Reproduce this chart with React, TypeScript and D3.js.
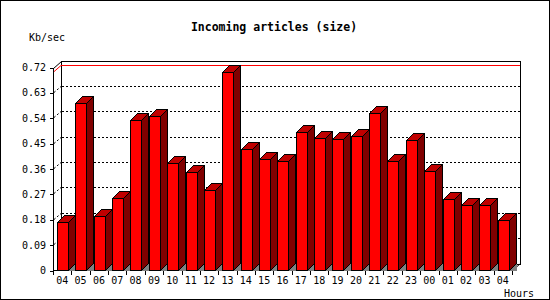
import React from "react";
import * as d3 from "d3";

const hours = ["04","05","06","07","08","09","10","11","12","13","14","15","16","17","18","19","20","21","22","23","00","01","02","03","04"];
const values = [0.171,0.593,0.194,0.256,0.533,0.547,0.380,0.350,0.284,0.703,0.431,0.394,0.389,0.490,0.469,0.465,0.476,0.558,0.389,0.462,0.352,0.253,0.231,0.231,0.178];
const yTickValues = [0,0.09,0.18,0.27,0.36,0.45,0.54,0.63,0.72];
const yTickLabels = ["0","0.09","0.18","0.27","0.36","0.45","0.54","0.63","0.72"];
const title = "Incoming articles (size)";
const yTitle = "Kb/sec";
const xTitle = "Hours";

export default function App() {
  const W = 550, H = 300;
  const x0 = 53, x1 = 512;
  const PDX = 8, PDY = 7; // plot depth
  const BD = 7; // bar depth
  const x = d3.scaleBand<number>().domain(d3.range(hours.length)).range([x0, x1]);
  const y = d3.scaleLinear().domain([0, 0.72]).range([270.5, 67.5]);
  const bw = x.bandwidth();
  const font = "'DejaVu Sans Mono', monospace";
  const maxV = d3.max(values) as number;
  const yBase = y(0);
  const yMax = Math.round(y(maxV)) + 0.5;
  const px = (v: number) => Math.round(v) + 0.5;

  return (
    <svg width={W} height={H} style={{ position: "absolute", left: 0, top: 0, background: "#fff" }} shapeRendering="crispEdges">
      <rect x={0.5} y={0.5} width={W - 1} height={H - 1} fill="#fff" stroke="#000" />
      <text x={274} y={30.5} textAnchor="middle" fontFamily={font} fontWeight="bold" fontSize={11.5}>{title}</text>
      <text x={29} y={40.5} fontFamily={font} fontSize={10}>{yTitle}</text>
      {/* back plane */}
      <rect x={px(x0 + PDX)} y={px(y(0.72) - PDY)} width={Math.round(x1 - x0)} height={Math.round(y(0) - y(0.72))} fill="none" stroke="#000" />
      {/* grid lines */}
      {yTickValues.slice(1, -1).map((v, i) => {
        const yy = px(y(v));
        return (
          <g key={"g" + i} stroke="#000" strokeDasharray="2,2" fill="none">
            <line x1={x0 + 1} y1={yy - 1} x2={x0 + PDX} y2={yy - PDY} shapeRendering="auto" />
            <line x1={x0 + PDX + 1} y1={yy - PDY} x2={x1 + PDX} y2={yy - PDY} />
          </g>
        );
      })}
      {/* max line */}
      <line x1={x0} y1={yMax} x2={x0 + PDX} y2={yMax - PDY} stroke="#f00" shapeRendering="auto" />
      <line x1={x0 + PDX} y1={yMax - PDY} x2={x1 + PDX} y2={yMax - PDY} stroke="#f00" />
      {/* front axes */}
      <line x1={px(x0)} y1={px(y(0.72))} x2={px(x0)} y2={yBase} stroke="#000" />
      <line x1={px(x0)} y1={px(y(0.72))} x2={px(x0) + PDX} y2={px(y(0.72)) - PDY} stroke="#000" shapeRendering="auto" />
      <line x1={px(x0)} y1={yBase} x2={px(x1)} y2={yBase} stroke="#000" />
      <line x1={px(x1)} y1={yBase} x2={px(x1) + PDX} y2={yBase - PDY} stroke="#000" shapeRendering="auto" />
      {yTickValues.map((v, i) => (
        <g key={"t" + i}>
          <line x1={px(x0) - 4} y1={px(y(v))} x2={px(x0)} y2={px(y(v))} stroke="#000" />
          <text x={46} y={y(v)} dy="0.35em" textAnchor="end" fontFamily={font} fontSize={10}>{yTickLabels[i]}</text>
        </g>
      ))}
      {/* bars */}
      {values.map((v, i) => {
        const xl = px((x(i) as number) + 4);
        const xr = xl + 11;
        const yt = px(y(v));
        return (
          <g key={"b" + i} stroke="#000" strokeLinejoin="miter">
            <polygon points={`${xr},${yBase} ${xr + BD},${yBase - BD} ${xr + BD},${yBase}`} fill="#808080" stroke="none" />
            <polygon points={`${xr},${yt} ${xr + BD},${yt - BD} ${xr + BD},${yBase - BD} ${xr},${yBase}`} fill="#800000" />
            <polygon points={`${xl},${yt} ${xl + BD},${yt - BD} ${xr + BD},${yt - BD} ${xr},${yt}`} fill="#c00000" />
            <rect x={xl} y={yt} width={11} height={yBase - yt} fill="#ff0000" />
          </g>
        );
      })}
      {/* x ticks and labels */}
      {d3.range(hours.length + 1).map((i) => {
        const xx = px(x0 + i * bw);
        return <line key={"xt" + i} x1={xx} y1={yBase} x2={xx} y2={yBase + 4} stroke="#000" />;
      })}
      {hours.map((h, i) => (
        <text key={"xl" + i} x={(x(i) as number) + bw / 2} y={284} textAnchor="middle" fontFamily={font} fontSize={10}>{h}</text>
      ))}
      <text x={504} y={296.5} fontFamily={font} fontSize={10}>{xTitle}</text>
    </svg>
  );
}
